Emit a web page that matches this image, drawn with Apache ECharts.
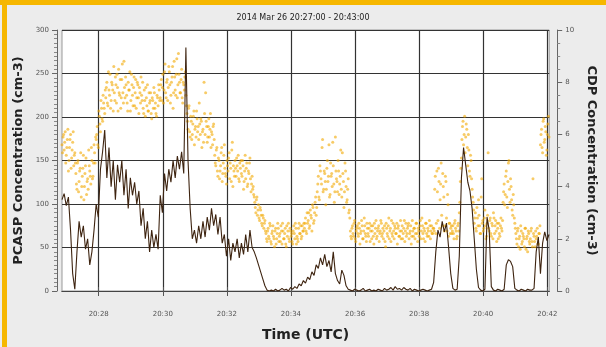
<!DOCTYPE html>
<html><head><meta charset="utf-8">
<script src="https://cdn.jsdelivr.net/npm/echarts@6/dist/echarts.min.js"></script>
<style>html,body{margin:0;padding:0;background:#ececec}#c{width:606px;height:347px}</style>
</head><body><div id="c"></div>
<script>
// Time axis in minutes after 20:00 UTC
const titleText = '2014 Mar 26 20:27:00 - 20:43:00';
const xMin = 26.854, xMax = 42.06;
const xTickValues = [28, 30, 32, 34, 36, 38, 40, 42];
const leftTicks = [0, 50, 100, 150, 200, 250, 300];
const rightTicks = [0, 2, 4, 6, 8, 10];

// PCASP concentration (cm-3), sampled every 4 s from the start of the axis
const pcaspStart = 26.854, pcaspStepSec = 4;
const pcaspValues = [
 105,112,98,108,70,20,2,45,80,62,
 75,48,60,30,45,70,100,85,140,160,
 185,130,165,120,150,105,145,125,150,110,
 140,95,130,110,125,100,115,75,95,60,
 80,45,70,50,65,48,110,90,135,115,
 140,125,150,130,155,140,160,135,280,150,
 95,60,70,55,75,60,80,62,85,70,
 95,75,88,65,85,55,65,40,60,35,
 55,45,60,38,55,42,65,45,70,50,
 45,38,30,22,14,6,1,0,1,0,
 2,0,1,3,1,2,0,4,2,5,
 3,8,6,12,9,16,13,22,18,30,
 26,38,30,42,28,35,22,45,20,12,
 8,24,18,6,2,1,0,2,1,0,
 1,3,0,1,2,0,1,0,2,1,
 0,3,1,2,4,1,5,2,3,1,
 4,2,1,3,0,2,1,0,1,2,
 1,0,1,2,10,45,70,62,80,68,
 78,50,20,3,1,2,40,130,165,145,
 125,115,95,60,25,4,1,0,2,85,
 70,5,1,0,2,1,0,2,30,36,
 34,28,3,1,0,2,1,0,2,1,
 1,3,45,62,20,55,68,58,65
];

// CDP concentration (cm-3), sampled every 2 s from the start of the axis
const cdpStart = 26.854, cdpStepSec = 2;
const cdpValues = [
 5.6,5.9,5.4,6.1,5.2,5.8,4.6,5.5,6.0,5.1,5.7,4.8,5.3,
 4.5,3.9,5.0,4.2,4.7,3.6,4.4,5.2,4.0,4.8,3.7,4.3,5.4,4.6,4.1,5.0,4.4,5.6,4.9,
 5.8,6.3,5.5,6.7,6.1,7.0,6.5,7.2,6.8,
 7.4,8.0,7.1,7.7,8.3,7.3,7.9,6.9,7.6,8.2,7.2,7.8,8.5,7.5,7.0,8.1,7.6,8.8,7.4,7.9,
 7.2,8.0,7.7,6.9,8.3,7.5,7.8,7.1,8.1,7.4,7.9,6.8,7.6,8.2,7.3,7.0,7.7,6.7,7.4,7.9,
 6.9,7.2,7.6,6.6,7.3,7.8,7.0,6.8,7.5,7.1,7.7,
 7.4,8.1,7.8,7.2,8.4,7.6,8.0,7.3,8.6,7.9,7.5,8.2,7.0,8.8,7.7,8.3,7.4,9.1,8.0,7.6,8.5,7.2,7.9,8.2,7.5,
 6.8,6.2,7.1,5.9,6.5,6.0,6.7,5.6,6.3,6.9,6.1,5.8,6.4,6.6,5.5,6.2,8.0,6.0,6.5,5.7,6.3,5.9,6.8,6.1,5.6,6.4,
 5.2,4.8,5.5,4.4,5.0,4.6,5.3,4.2,4.9,5.6,4.5,4.1,4.8,5.1,4.3,4.7,5.4,4.0,4.6,5.0,
 4.4,4.8,5.2,4.2,4.7,4.5,5.0,3.9,4.6,4.3,4.9,4.1,4.5,5.1,3.8,4.4,4.0,
 3.6,3.2,3.5,2.9,3.3,2.7,3.1,2.6,2.9,2.4,2.7,
 2.2,1.9,2.4,2.0,2.5,1.8,2.3,2.1,1.7,2.4,2.0,2.6,1.9,2.2,2.5,1.8,2.3,2.0,
 2.4,1.7,2.1,2.6,1.9,2.3,2.2,1.8,2.5,2.0,2.4,2.1,1.9,2.6,2.2,2.0,2.5,2.3,
 2.4,2.8,2.2,2.6,3.0,2.5,2.9,2.3,3.2,2.7,3.4,2.9,
 3.8,4.4,3.5,4.6,4.1,5.8,3.9,4.5,3.3,4.7,4.2,5.6,3.7,4.4,4.0,4.8,3.4,5.9,4.3,3.8,
 4.6,4.1,5.4,3.6,4.5,3.2,4.9,4.0,3.5,4.3,3.1,
 2.3,2.0,2.5,2.1,2.7,1.9,2.4,2.2,2.6,1.8,2.3,2.5,2.0,2.8,2.2,1.9,2.4,2.1,2.6,2.3,
 2.0,2.5,1.8,2.2,2.7,2.1,2.4,1.9,2.3,2.6,2.2,2.0,2.5,1.7,2.4,2.1,2.8,2.3,1.9,2.2,
 2.6,2.0,2.4,2.2,1.8,2.5,2.1,2.7,2.3,2.0,2.4,1.9,2.6,2.2,2.5,2.0,2.3,1.8,2.7,2.1,
 2.4,2.2,2.6,1.9,2.3,2.5,2.0,2.8,2.2,2.4,1.9,2.6,2.1,2.3,2.7,2.0,2.5,2.2,
 2.4,3.9,2.2,4.6,2.7,4.2,3.5,4.9,2.5,4.0,2.3,4.4,2.8,3.7,2.1,2.6,2.4,2.2,
 2.5,2.0,2.7,2.3,2.1,2.6,3.0,
 4.2,5.1,6.3,5.6,6.7,5.9,6.2,4.8,5.4,4.4,5.0,3.9,
 3.4,2.6,3.0,2.3,2.8,3.5,2.5,2.2,4.3,2.7,2.4,3.1,2.0,2.6,5.3,2.3,2.8,2.1,2.5,3.0,
 2.2,2.7,1.9,2.4,2.6,2.1,2.8,2.3,
 3.4,4.1,3.7,4.6,3.2,4.9,3.9,4.3,3.5,2.9,3.3,2.6,
 2.2,1.8,2.4,2.0,1.6,2.3,1.9,2.1,1.7,2.4,2.0,1.5,2.2,1.8,2.3,1.9,4.3,2.1,1.7,2.0,
 2.4,1.8,2.2,
 5.6,6.2,5.3,6.6,5.8,6.1,5.4,6.4,5.9
];
// CDP samples taken 1 s after each of the above (interleaved readings)
const cdpStart2 = 26.854 + 1 / 60;
const cdpValues2 = [
 5.3,6.0,5.7,4.9,5.5,6.2,5.0,5.8,4.7,5.4,6.1,5.2,4.9,
 4.1,4.9,3.8,4.6,5.3,4.0,4.7,3.5,4.5,5.1,4.2,3.9,4.8,4.4,5.5,4.3,4.9,5.3,5.9,
 6.0,5.6,6.9,6.4,7.3,6.6,7.5,7.0,7.7,
 7.8,7.2,8.4,7.5,7.0,8.0,7.7,8.6,7.3,7.9,8.3,6.9,7.6,8.1,7.4,8.7,7.2,7.8,8.2,7.5,
 6.9,7.7,8.4,7.3,7.9,7.1,8.2,7.6,7.0,8.0,7.4,7.8,7.2,7.5,8.0,6.8,7.3,7.8,7.1,6.9,
 7.6,7.3,6.8,7.4,7.0,7.6,7.2,6.7,7.4,7.9,7.3,
 7.9,7.3,8.3,7.7,8.7,7.4,8.1,7.8,8.4,7.2,8.0,8.6,7.6,8.2,7.5,8.9,7.9,8.3,7.6,8.1,7.4,8.0,7.7,8.4,7.1,
 6.5,7.0,6.1,6.7,5.8,6.4,6.9,6.2,5.9,6.6,6.3,7.2,6.0,6.5,6.1,5.7,6.8,7.6,6.3,5.9,6.6,6.2,5.5,6.0,6.3,5.8,
 4.9,5.4,4.6,5.1,4.3,4.8,5.5,4.5,5.2,4.7,4.4,5.0,4.6,5.3,4.9,4.2,5.7,4.8,4.4,4.7,
 5.1,4.6,4.3,4.9,5.0,4.4,4.8,4.2,5.2,4.7,4.0,4.6,4.9,4.3,4.1,3.9,3.7,
 3.4,3.0,3.6,3.1,2.8,3.2,2.9,2.5,2.8,2.6,2.3,
 2.0,2.3,2.1,2.6,1.9,2.2,2.5,2.0,2.3,1.8,2.2,2.4,2.1,1.9,2.3,2.6,2.0,2.2,
 1.8,2.5,2.3,2.0,2.4,2.1,1.9,2.3,2.2,2.6,1.8,2.0,2.4,2.2,2.5,2.1,2.3,2.6,
 2.6,2.3,3.0,2.7,2.4,3.1,2.8,3.3,2.6,3.0,3.6,3.2,
 4.1,3.6,4.8,4.3,5.5,3.8,4.6,4.2,3.9,5.0,4.4,3.6,4.9,4.5,5.7,4.1,3.8,4.6,4.2,5.0,
 3.7,4.4,3.9,5.3,4.2,3.8,4.6,3.4,3.9,3.0,2.8,
 2.1,2.4,2.2,2.6,2.0,2.3,2.5,2.1,2.4,2.2,2.7,2.0,2.3,2.5,2.1,2.6,2.2,2.4,1.9,2.5,
 2.3,2.1,2.6,2.4,2.0,2.3,2.5,2.2,2.7,2.1,2.4,2.3,1.9,2.6,2.2,2.5,2.0,2.4,2.7,2.1,
 2.3,2.5,2.2,2.6,2.4,2.1,2.3,2.0,2.5,2.2,2.7,2.3,2.1,2.4,2.6,2.2,2.5,2.1,2.3,2.4,
 2.0,2.6,2.2,2.4,2.1,2.7,2.3,2.5,2.0,2.3,2.6,2.2,2.4,2.1,2.5,2.3,2.2,2.4,
 2.3,4.4,2.6,3.8,4.7,2.4,4.1,2.9,4.5,3.6,2.5,4.2,2.3,3.3,2.6,2.2,2.5,2.3,
 2.2,2.6,2.4,2.0,2.5,2.3,3.4,
 4.7,5.8,6.5,6.0,5.3,6.4,5.5,6.0,4.6,5.2,4.3,3.6,
 3.1,2.8,2.4,3.2,2.5,2.9,2.2,3.6,2.6,2.3,2.8,2.5,2.1,2.9,2.4,2.7,2.2,2.6,2.0,2.8,
 2.5,2.3,2.6,2.0,2.2,2.5,2.4,2.7,
 3.8,3.3,4.4,3.6,4.2,5.0,3.4,4.0,3.1,3.7,2.8,2.4,
 2.0,2.3,1.7,2.1,2.5,1.8,2.2,2.0,2.4,1.6,2.1,2.3,1.9,2.0,2.4,1.7,2.2,1.9,2.3,2.1,
 1.8,2.2,2.5,
 6.0,5.5,6.5,5.7,6.3,5.2,6.0,6.7
];

const pcaspData = pcaspValues.map((v, i) => [pcaspStart + i * pcaspStepSec / 60, v]);
const cdpData = cdpValues.map((v, i) => [cdpStart + i * cdpStepSec / 60, v])
  .concat(cdpValues2.map((v, i) => [cdpStart2 + i * cdpStepSec / 60, v]));

const chart = echarts.init(document.getElementById('c'), null, {renderer: 'canvas'});
const font = 'DejaVu Sans';
chart.setOption({
  backgroundColor: '#ececec',
  animation: false,
  textStyle: {fontFamily: font},
  title: {
    text: titleText, left: 'center', top: 9,
    textStyle: {fontSize: 8, fontWeight: 'normal', color: '#222', fontFamily: font}
  },
  graphic: [
    {type: 'rect', shape: {x: 0, y: 0, width: 606, height: 5}, style: {fill: '#f6b700'}, z: 100},
    {type: 'rect', shape: {x: 2, y: 0, width: 5, height: 347}, style: {fill: '#f6b700'}, z: 100}
  ],
  grid: {left: 62, right: 53, top: 30, bottom: 53, show: true, backgroundColor: '#ffffff', borderColor: '#999', borderWidth: 1},
  xAxis: [{
    type: 'value', min: xMin, max: xMax, position: 'bottom', offset: 8,
    axisLine: {show: true, lineStyle: {color: '#555', width: 1}},
    axisTick: {show: true, customValues: xTickValues, length: 5, lineStyle: {color: '#555'}},
    axisLabel: {customValues: xTickValues, fontSize: 7, color: '#555', margin: 12,
      formatter: v => '20:' + String(Math.round(v)).padStart(2, '0')},
    splitLine: {show: true, lineStyle: {color: '#333', width: 1.2}},
    name: 'Time (UTC)', nameLocation: 'middle', nameGap: 29,
    nameTextStyle: {fontSize: 14, fontWeight: 'bold', color: '#222', fontFamily: font}
  }, {
    type: 'value', min: xMin, max: xMax, position: 'top', offset: 1,
    axisLine: {show: true, lineStyle: {color: '#444', width: 1}},
    axisTick: {show: true, customValues: xTickValues, length: 4, lineStyle: {color: '#555'}},
    axisLabel: {show: false}, splitLine: {show: false}
  }],
  yAxis: [{
    type: 'value', min: 0, max: 300, interval: 50, position: 'left', offset: 5,
    axisLine: {show: true, lineStyle: {color: '#666'}},
    axisTick: {show: true, length: 5, lineStyle: {color: '#666'}},
    minorTick: {show: true, splitNumber: 10, length: 3, lineStyle: {color: '#888'}},
    axisLabel: {fontSize: 7, color: '#555', margin: 8},
    splitLine: {show: true, lineStyle: {color: '#333', width: 1.2}},
    name: 'PCASP Concentration (cm-3)', nameLocation: 'middle', nameGap: 32,
    nameTextStyle: {fontSize: 13, fontWeight: 'bold', color: '#222', fontFamily: font}
  }, {
    type: 'value', min: 0, max: 10, interval: 2, position: 'right', offset: 8,
    axisLine: {show: true, lineStyle: {color: '#666'}},
    axisTick: {show: true, length: 5, lineStyle: {color: '#666'}},
    minorTick: {show: true, splitNumber: 4, length: 3, lineStyle: {color: '#888'}},
    axisLabel: {fontSize: 7, color: '#555', margin: 8},
    splitLine: {show: false},
    name: 'CDP Concentration (cm-3)', nameLocation: 'middle', nameGap: 25, nameRotate: -90,
    nameTextStyle: {fontSize: 13, fontWeight: 'bold', color: '#222', fontFamily: font}
  }],
  series: [{
    type: 'scatter', name: 'CDP', xAxisIndex: 0, yAxisIndex: 1, data: cdpData,
    symbolSize: 3, itemStyle: {color: 'rgba(242,168,0,0.75)'}, z: 2
  }, {
    type: 'line', name: 'PCASP', xAxisIndex: 0, yAxisIndex: 0, data: pcaspData,
    showSymbol: false, lineStyle: {color: '#3e2410', width: 1.1}, z: 3
  }]
});
</script></body></html>
